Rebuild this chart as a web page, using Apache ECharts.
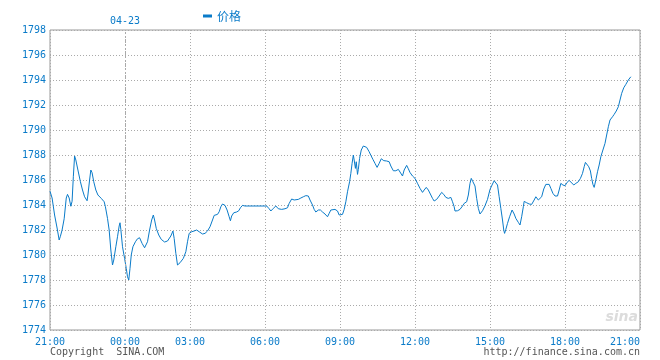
<!DOCTYPE html>
<html>
<head>
<meta charset="utf-8">
<script src="https://cdn.jsdelivr.net/npm/echarts@6/dist/echarts.min.js"></script>
<style>html,body{margin:0;padding:0;background:#fff;}#c{width:660px;height:360px;}</style>
</head>
<body>
<div id="c"></div>
<script>
// minutes since 21:00 along the session axis, and price values
const minutes = [0,5,11,17,22,25,29,34,39,42,46,50,53,56,59,62,67,73,78,83,89,91,95,98,101,105,110,115,123,130,133,138,142,146,150,153,158,162,166,168,170,174,179,183,186,189,192,195,199,205,210,215,221,227,234,239,244,248,251,255,261,267,275,282,
290,295,298,302,306,312,320,326,330,334,340,346,352,358,366,372,378,384,390,394,402,406,410,414,420,425,430,433,436,441,448,453,457,462,468,492,520,526,530,536,542,548,556,564,
570,574,580,586,590,596,602,608,614,620,624,630,634,638,644,649,654,660,666,670,674,678,684,690,694,698,702,706,710,714,719,722,725,728,730,733,735,738,740,743,747,752,756,760,766,770,775,780,785,790,795,801,808,814,818,824,830,836,840,846,850,856,860,864,
870,876,882,888,894,898,903,908,914,918,922,928,934,940,945,950,956,962,966,970,972,978,984,990,994,1000,1004,1008,1011,1015,1020,1024,1028,1032,1038,1044,1050,1056,1062,1066,1070,1074,1078,1082,1086,1089,1091,1094,1098,1103,1109,1114,1118,1124,1128,1132,1136,1138,1144,1150,
1156,1162,1166,1172,1176,1180,1185,1190,1198,1202,1207,1212,1218,1222,1226,1231,1236,1241,1246,1250,1257,1262,1268,1273,1278,1282,1285,1289,1293,1297,1300,1303,1306,1310,1314,1318,1322,1327,1332,1336,1340,1344,1350,1354,1359,1364,1368,1372,1377,1382,1388,1394];
const prices = [1785.1,1784.56,1783.2,1782.16,1781.2,1781.5,1782.0,1782.9,1784.56,1784.85,1784.56,1783.9,1784.3,1786.26,1787.92,1787.6,1786.8,1785.86,1785.2,1784.66,1784.34,1784.8,1786.0,1786.8,1786.58,1785.86,1785.2,1784.8,1784.53,1784.26,1783.86,1782.93,1782.0,1780.4,1779.2,1779.6,1780.66,1781.46,1782.32,1782.58,1782.05,1780.66,1779.73,1778.93,1778.26,1778.0,1778.93,1780.0,1780.66,1781.06,1781.3,1781.38,1780.93,1780.58,1781.06,1782.0,1782.8,1783.2,1782.8,1782.13,1781.6,1781.25,1781.04,1781.12,
1781.52,1781.92,1781.33,1780.13,1779.2,1779.38,1779.73,1780.26,1781.06,1781.73,1781.86,1781.92,1782.0,1781.86,1781.68,1781.73,1781.92,1782.26,1782.8,1783.17,1783.25,1783.46,1783.86,1784.08,1783.97,1783.6,1783.06,1782.74,1783.12,1783.38,1783.44,1783.54,1783.78,1783.97,1783.92,1783.92,1783.92,1783.7,1783.52,1783.73,1783.92,1783.7,1783.65,1783.7,
1783.78,1784.13,1784.48,1784.4,1784.32,1784.45,1784.56,1784.66,1784.75,1784.72,1784.4,1784.0,1783.65,1783.44,1783.6,1783.6,1783.44,1783.28,1783.06,1783.33,1783.6,1783.7,1783.65,1783.52,1783.2,1783.06,1783.25,1783.65,1784.26,1785.06,1785.86,1786.53,1787.33,1788.0,1787.6,1786.93,1787.46,1786.45,1786.85,1787.73,1788.4,1788.72,1788.88,1788.61,1788.26,1787.98,1787.65,1787.33,1787.01,1787.33,1787.7,1787.55,1787.52,1787.46,1787.12,1786.74,1786.74,1786.85,1786.64,1786.32,1786.8,1787.17,1786.9,1786.6,
1786.32,1786.13,1785.73,1785.33,1785.01,1785.2,1785.41,1785.2,1784.8,1784.53,1784.32,1784.45,1784.72,1785.01,1784.85,1784.61,1784.53,1784.61,1784.26,1783.86,1783.52,1783.54,1783.65,1783.92,1784.13,1784.26,1784.8,1785.73,1786.13,1785.86,1785.52,1784.53,1783.73,1783.28,1783.54,1783.94,1784.45,1785.25,1785.68,1785.94,1786.08,1785.6,1784.66,1783.73,1782.8,1782.0,1781.73,1782.05,1782.53,1783.06,1783.6,1783.28,1782.93,1782.61,1782.4,1783.06,1783.86,1784.29,1784.18,1784.08,
1784.05,1784.4,1784.66,1784.4,1784.24,1784.66,1785.28,1785.65,1785.65,1785.33,1784.93,1784.72,1784.72,1785.2,1785.73,1785.6,1785.54,1785.81,1785.97,1785.81,1785.6,1785.73,1785.86,1786.13,1786.53,1787.06,1787.41,1787.25,1787.06,1786.72,1786.13,1785.65,1785.41,1786.0,1786.66,1787.2,1787.86,1788.4,1788.93,1789.6,1790.26,1790.8,1791.06,1791.25,1791.52,1791.86,1792.4,1792.93,1793.38,1793.65,1794.0,1794.26];

const tickMinutes = [0,180,336,516,696,876,1056,1236,1416];
const tickLabels = ['21:00','00:00','03:00','06:00','09:00','12:00','15:00','18:00','21:00'];
const dateMinutes = [180];
const dateLabels = ['04-23'];
const seriesName = '价格';
const yMin = 1774, yMax = 1798, yStep = 2;

const BLUE = '#0a7bc9';
const MONO = 'DejaVu Sans Mono';
const chart = echarts.init(document.getElementById('c'), null, {renderer: 'canvas'});
const lineData = minutes.map((m, i) => [m, prices[i]]);

chart.setOption({
  animation: false,
  backgroundColor: '#fff',
  grid: {left: 50, right: 20, top: 30, bottom: 30, show: true, borderColor: '#999', borderWidth: 1},
  legend: {
    data: [seriesName], left: 198, top: 5,
    icon: 'rect', itemWidth: 9, itemHeight: 3, itemGap: 6,
    textStyle: {color: BLUE, fontSize: 12, fontFamily: 'Noto Sans CJK SC'}
  },
  xAxis: [{
    type: 'value', min: 0, max: tickMinutes[tickMinutes.length - 1],
    axisLine: {show: false},
    axisTick: {show: false, customValues: tickMinutes},
    axisLabel: {
      customValues: tickMinutes, color: BLUE, fontSize: 10, fontFamily: MONO, margin: 7,
      alignMaxLabel: 'right',
      formatter: v => tickLabels[tickMinutes.indexOf(v)] || ''
    },
    splitLine: {show: true, lineStyle: {color: '#aaa', type: [1, 2], width: 1}}
  }, {
    type: 'value', position: 'top', min: 0, max: tickMinutes[tickMinutes.length - 1],
    axisLine: {show: false},
    axisTick: {show: false, customValues: dateMinutes},
    axisLabel: {
      customValues: dateMinutes, color: BLUE, fontSize: 10, fontFamily: MONO, margin: 4,
      formatter: v => dateLabels[dateMinutes.indexOf(v)] || ''
    },
    splitLine: {show: false}
  }],
  yAxis: {
    type: 'value', min: yMin, max: yMax, interval: yStep,
    axisLine: {show: false}, axisTick: {show: false},
    axisLabel: {color: BLUE, fontSize: 10, fontFamily: MONO, margin: 4, formatter: v => String(v)},
    splitLine: {show: true, lineStyle: {color: '#aaa', type: [1, 2], width: 1}}
  },
  series: [{
    name: seriesName, type: 'line', data: lineData, showSymbol: false,
    lineStyle: {color: BLUE, width: 1}, itemStyle: {color: BLUE},
    markLine: {
      silent: true, symbol: 'none', label: {show: false},
      lineStyle: {color: '#aaa', type: [2, 2], width: 1},
      data: dateMinutes.map(m => ({xAxis: m}))
    }
  }],
  graphic: [
    {type: 'text', left: 50, top: 347, style: {text: 'Copyright  SINA.COM', fill: '#555', font: '10px "DejaVu Sans Mono"'}},
    {type: 'text', right: 20, top: 347, style: {text: 'http://finance.sina.com.cn', fill: '#555', font: '10px "DejaVu Sans Mono"'}},
    {type: 'text', right: 22, top: 310, style: {text: 'sina', fill: '#dcdcdc', font: 'italic bold 14px "DejaVu Sans"'}}
  ]
});
</script>
</body>
</html>
